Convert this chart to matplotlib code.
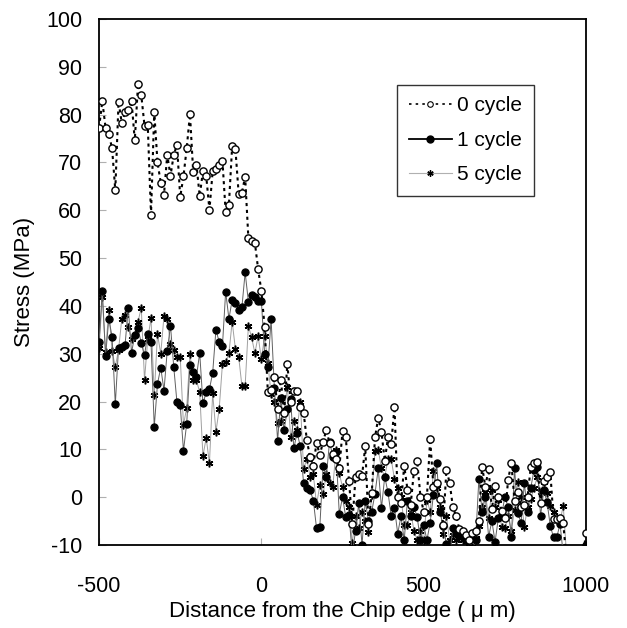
import numpy as np
import matplotlib
matplotlib.use("Agg")
import matplotlib.pyplot as plt
from matplotlib.lines import Line2D

plt.rcParams['font.family'] = ['Liberation Sans', 'DejaVu Sans']
plt.rcParams['axes.unicode_minus'] = False

# Distance from chip edge (um), 10 um steps
distance = np.arange(-500, 1001, 10)

cycle0 = [77.3, 82.8, 77.3, 75.9, 73.0, 64.2, 82.7, 78.2, 80.5, 81.0,
          82.9, 74.6, 86.4, 84.1, 77.7, 77.8, 59.1, 80.6, 70.0, 65.8,
          63.3, 71.6, 67.2, 71.6, 73.7, 62.8, 67.1, 73.0, 80.1, 68.0,
          69.5, 63.0, 68.2, 67.2, 60.1, 68.2, 68.7, 69.5, 70.4, 59.6,
          61.2, 73.4, 72.8, 63.5, 63.7, 67.0, 54.1, 53.6, 53.2, 47.7,
          43.1, 35.6, 21.9, 22.5, 25.2, 18.4, 24.6, 17.5, 27.9, 20.0,
          22.3, 22.3, 18.9, 17.7, 12.0, 8.3, 6.6, 11.4, 8.8, 11.6,
          14.0, 11.3, 9.0, 8.0, 6.0, 13.8, 12.6, 3.4, -5.7, 4.2,
          4.8, 4.4, 10.6, -5.7, 0.8, 12.5, 16.6, 13.6, 7.6, 12.5,
          11.1, 18.9, 0.1, -1.3, 6.6, 1.6, -1.6, 5.5, 7.6, 0.1,
          -3.0, 0.1, 12.2, 2.1, 3.0, -0.4, -5.9, 5.7, 3.0, -2.1,
          -4.0, -6.7, -7.0, -8.0, -9.0, -7.5, -7.1, -4.9, 6.4, 2.2,
          5.9, -2.5, 2.3, 0.0, -2.9, -4.3, 3.6, 7.1, -0.8, 1.1,
          -2.0, -1.6, 0.1, 6.4, 7.1, 7.4, -1.3, 3.4, 4.3, 5.3,
          -4.6, -4.6, -4.4, -5.5, -13.0, -15.0, -14.0, -16.0, -12.0, -13.0,
          -7.4]

cycle1 = [32.5, 43.2, 29.5, 37.3, 33.6, 19.4, 31.3, 31.5, 31.8, 39.6,
          30.2, 33.9, 35.3, 32.2, 29.7, 34.1, 32.4, 14.7, 23.7, 27.1,
          22.3, 30.6, 35.9, 27.3, 19.8, 19.3, 9.7, 15.4, 27.6, 26.2,
          25.2, 30.2, 19.6, 21.9, 22.6, 26.0, 35.0, 32.5, 31.6, 43.0,
          37.3, 41.2, 40.7, 39.1, 39.7, 47.0, 40.9, 42.3, 41.9, 41.0,
          41.0, 30.0, 27.2, 37.2, 22.9, 11.8, 20.8, 14.0, 18.4, 20.5,
          10.2, 13.5, 10.6, 3.0, 2.0, 1.5, -0.7, -6.5, -6.3, 6.5,
          4.3, 11.6, 8.5, 9.5, -3.5, 0.0, -4.2, -3.7, -12.0, -7.0,
          -1.3, -10.0, -0.9, -4.9, -3.0, 0.7, 6.0, -2.3, 4.3, 1.0,
          -3.9, -2.3, -7.6, -4.0, -9.0, -0.7, -3.9, -2.0, -4.2, -9.0,
          -5.8, -9.0, -5.3, 0.5, 7.2, -3.0, -6.0, -9.8, -12.0, -6.4,
          -7.0, -8.0, -8.0, -9.0, -8.6, -11.0, -9.0, 3.8, -3.0, 0.0,
          -8.3, -5.0, -9.3, -4.4, -3.7, 0.0, -2.0, -8.3, 6.0, -3.4,
          -5.3, 2.9, -3.0, 2.0, 5.7, 6.4, -3.9, 1.4, -1.0, -6.0,
          -8.4, -8.4, -5.6, -12.0, -14.0, -15.0, -13.0, -14.0, -12.0, -13.0,
          -10.0]

cycle5 = [31.3, 41.8, 30.4, 39.1, 30.6, 27.3, 30.8, 37.3, 38.1, 35.5,
          33.0, 34.0, 36.7, 39.6, 24.5, 33.1, 37.4, 21.4, 34.1, 30.0,
          37.9, 37.3, 32.0, 30.8, 29.4, 29.4, 15.1, 18.7, 30.0, 24.5,
          24.5, 21.9, 8.6, 12.4, 7.1, 21.7, 13.7, 18.4, 27.8, 28.3,
          30.1, 36.7, 31.0, 29.4, 23.3, 23.3, 35.8, 33.4, 30.1, 33.7,
          28.8, 33.7, 28.0, 21.5, 20.0, 15.6, 16.0, 18.0, 23.1, 12.5,
          16.0, 14.0, 20.0, 5.9, 8.0, 4.3, 4.8, -1.6, 2.5, 0.6,
          4.8, 3.0, 2.1, 9.9, 5.0, 2.1, -0.9, -2.0, -9.6, -4.0,
          -6.5, -3.0, -5.0, -7.2, 0.5, 9.7, 9.9, 6.0, 4.2, 7.9,
          7.9, 3.8, 2.0, 0.1, -5.8, -5.8, -3.0, -7.0, -9.0, -7.0,
          -9.0, -0.6, -3.0, 5.5, 1.9, -2.0, -7.6, -4.0, -9.0, -8.0,
          -9.0, -8.6, -9.0, -11.0, -9.5, -10.5, -8.6, -6.0, -2.0, 1.0,
          -4.4, 1.4, -2.0, -0.6, -6.3, -6.5, -4.0, -7.0, -2.7, 3.2,
          0.0, -6.2, -2.0, -0.4, 2.0, 4.2, 1.0, 3.2, 0.8, -1.8,
          -3.0, -4.8, -5.0, -1.8, -12.0, -14.0, -13.0, -15.0, -12.0, -14.0,
          -11.0]

labels = ['0 cycle', '1 cycle', '5 cycle']
x_ticks = [-500, 0, 500, 1000]
y_ticks = [-10, 0, 10, 20, 30, 40, 50, 60, 70, 80, 90, 100]

fig = plt.figure(figsize=(6.27, 6.28), dpi=100)
ax = fig.add_axes([0.158, 0.1322, 0.7766, 0.8375])

star = (6, 2, 0)
ax.plot(distance, cycle5, color='#a0a0a0', lw=0.7, marker=star, ms=5.5,
        mec='black', mfc='black', mew=1.1, zorder=2)
ax.plot(distance, cycle1, color='#606060', lw=0.7, marker='o', ms=5.2,
        mec='black', mfc='black', mew=0.8, zorder=3)
ax.plot(distance, cycle0, color='black', lw=1.5, ls=(0, (1.5, 1.8)),
        marker='o', ms=5.2, mec='black', mfc='white', mew=1.0, zorder=4)

ax.set_xlim(-500, 1000)
ax.set_ylim(-10, 100)
ax.set_xticks(x_ticks)
ax.set_yticks(y_ticks)
ax.tick_params(direction='in', length=5, color='#b0b0b0', labelsize=15.5)
ax.tick_params(axis='y', pad=12)
ax.tick_params(axis='x', pad=22)
for s in ax.spines.values():
    s.set_linewidth(1.3)
    s.set_color('black')

ax.set_ylabel('Stress (MPa)', fontsize=16, labelpad=8)
ax.set_xlabel('Distance from the Chip edge ( μ m)', fontsize=16, labelpad=3)

handles = [
    Line2D([], [], color='black', lw=1.2, ls=(0, (1.5, 2.5)), marker='o',
           ms=4, mfc='white', mec='black', mew=0.8),
    Line2D([], [], color='black', lw=1.3, marker='o', ms=5, mfc='black',
           mec='black'),
    Line2D([], [], color='#b0b0b0', lw=0.8, marker=star, ms=4.5,
           mfc='black', mec='black', mew=1.0),
]
leg = ax.legend(handles, labels, loc='upper left',
                bbox_to_anchor=(0.612, 0.875), borderaxespad=0,
                fontsize=15, frameon=True,
                fancybox=False, edgecolor='black', handlelength=2.1,
                handletextpad=0.25, labelspacing=0.75, borderpad=0.55)
leg.get_frame().set_linewidth(1.0)

fig.savefig('out.png', dpi=100)
